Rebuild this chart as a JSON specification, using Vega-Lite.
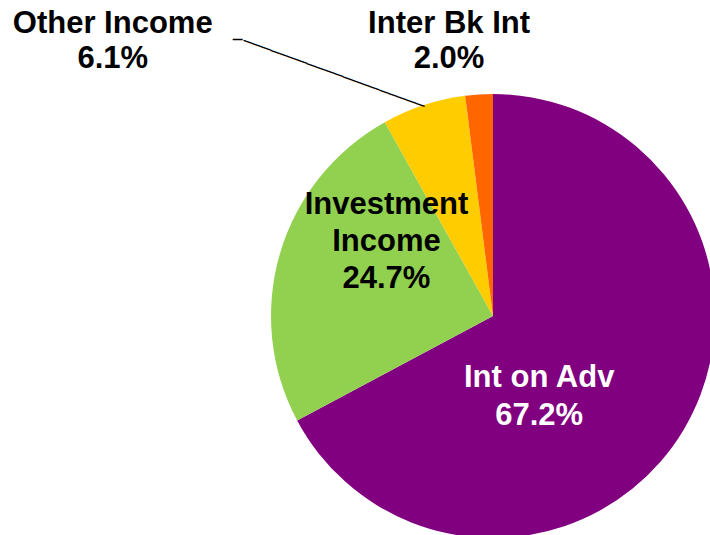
{
  "$schema": "https://vega.github.io/schema/vega-lite/v6.json",
  "width": 434,
  "height": 400,
  "autosize": {"type": "none"},
  "padding": {"left": 276, "top": 116, "right": 0, "bottom": 19},
  "background": "white",
  "view": {"stroke": null},
  "data": {
    "values": [
      {"category": "Int on Adv", "share": 67.2, "label": "Int on Adv\n67.2%"},
      {"category": "Investment Income", "share": 24.7, "label": "Investment\nIncome\n24.7%"},
      {"category": "Other Income", "share": 6.1, "label": "Other Income\n6.1%"},
      {"category": "Inter Bk Int", "share": 2.0, "label": "Inter Bk Int\n2.0%"}
    ]
  },
  "encoding": {
    "theta": {"field": "share", "type": "quantitative", "stack": true},
    "order": {"field": "share", "type": "quantitative", "sort": "descending"}
  },
  "layer": [
    {
      "mark": {"type": "arc", "outerRadius": 222},
      "encoding": {
        "color": {
          "field": "category",
          "type": "nominal",
          "scale": {
            "domain": ["Int on Adv", "Investment Income", "Other Income", "Inter Bk Int"],
            "range": ["#800080", "#92D050", "#FFCC00", "#FF6600"]
          },
          "legend": null
        }
      }
    },
    {
      "mark": {"type": "text", "radius": 90, "dx": -31, "dy": 16, "color": "white", "font": "Liberation Sans", "fontWeight": "bold", "fontSize": 31, "lineHeight": 38, "lineBreak": "\n", "align": "center", "baseline": "middle"},
      "encoding": {
        "text": {"condition": {"test": "datum.category === 'Int on Adv'", "field": "label"}, "value": ""}
      }
    },
    {
      "mark": {"type": "text", "radius": 110, "dx": -1, "dy": -80, "color": "black", "font": "Liberation Sans", "fontWeight": "bold", "fontSize": 31, "lineHeight": 37, "lineBreak": "\n", "align": "center", "baseline": "middle"},
      "encoding": {
        "text": {"condition": {"test": "datum.category === 'Investment Income'", "field": "label"}, "value": ""}
      }
    },
    {
      "mark": {"type": "text", "radius": 222, "dx": -311, "dy": -81, "color": "black", "font": "Liberation Sans", "fontWeight": "bold", "fontSize": 31, "lineHeight": 35, "lineBreak": "\n", "align": "center", "baseline": "middle"},
      "encoding": {
        "text": {"condition": {"test": "datum.category === 'Other Income'", "field": "label"}, "value": ""}
      }
    },
    {
      "mark": {"type": "text", "radius": 222, "dx": -30, "dy": -70, "color": "black", "font": "Liberation Sans", "fontWeight": "bold", "fontSize": 31, "lineHeight": 35, "lineBreak": "\n", "align": "center", "baseline": "middle"},
      "encoding": {
        "text": {"condition": {"test": "datum.category === 'Inter Bk Int'", "field": "label"}, "value": ""}
      }
    },
    {
      "mark": {"type": "text", "radius": 220, "angle": 20.1, "color": "black", "font": "DejaVu Sans Mono", "fontSize": 16, "align": "right", "baseline": "middle"},
      "encoding": {
        "text": {"condition": {"test": "datum.category === 'Other Income'", "value": "────────────────────"}, "value": ""}
      }
    },
    {
      "mark": {"type": "text", "radius": 220, "dx": -182, "dy": -67, "color": "black", "font": "DejaVu Sans Mono", "fontSize": 16, "align": "right", "baseline": "middle"},
      "encoding": {
        "text": {"condition": {"test": "datum.category === 'Other Income'", "value": "─"}, "value": ""}
      }
    }
  ]
}
